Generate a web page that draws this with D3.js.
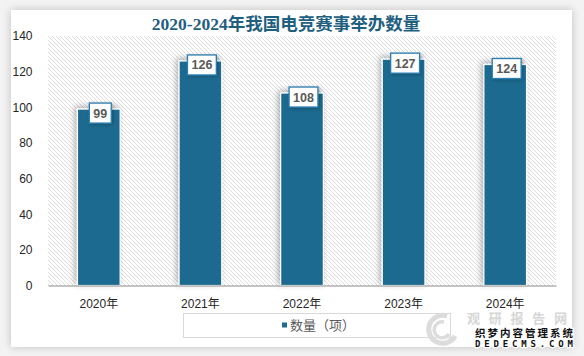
<!DOCTYPE html>
<html><head><meta charset="utf-8">
<script src="https://cdn.jsdelivr.net/npm/d3@7"></script>
<style>body{margin:0;background:#f3f3f3;}svg{display:block;}</style>
</head><body>
<svg id="c" width="584" height="356"></svg>
<script>
const title = "2020-2024年我国电竞赛事举办数量";
const categories = ["2020年","2021年","2022年","2023年","2024年"];
const values = [99,126,108,127,124];
const yTicks = [0,20,40,60,80,100,120,140];
const seriesName = "数量（项）";

const svg = d3.select("#c");
const defs = svg.append("defs");
const pat = defs.append("pattern").attr("id","hatch").attr("patternUnits","userSpaceOnUse")
  .attr("width",4).attr("height",4);
pat.append("rect").attr("width",4).attr("height",4).attr("fill","#fff");
pat.append("path").attr("d","M-1,-1 L5,5 M-1,3 L1,5 M3,-1 L5,1").attr("stroke","#dadada").attr("stroke-width",0.9);
const cardSh = defs.append("filter").attr("id","cardsh").attr("x","-10%").attr("y","-10%").attr("width","120%").attr("height","120%");
cardSh.append("feDropShadow").attr("dx",0).attr("dy",0).attr("stdDeviation",4).attr("flood-color","#000").attr("flood-opacity",0.22);
const barSh = defs.append("filter").attr("id","barsh").attr("x","-50%").attr("y","-50%").attr("width","200%").attr("height","200%");
barSh.append("feDropShadow").attr("dx",-2).attr("dy",-2).attr("stdDeviation",3).attr("flood-color","#000").attr("flood-opacity",0.3);
const lblSh = defs.append("filter").attr("id","lblsh").attr("x","-50%").attr("y","-50%").attr("width","200%").attr("height","200%");
lblSh.append("feDropShadow").attr("dx",1).attr("dy",1).attr("stdDeviation",1.5).attr("flood-color","#000").attr("flood-opacity",0.25);

svg.append("rect").attr("width",584).attr("height",356).attr("fill","#f3f3f3");
svg.append("rect").attr("x",11).attr("y",10).attr("width",561).attr("height",337).attr("fill","#fff").attr("filter","url(#cardsh)");

const x = d3.scaleBand().domain(categories).range([48,556]).paddingInner(0.58).paddingOuter(0.29);
const y = d3.scaleLinear().domain([0,140]).range([285.5,36]);

svg.append("rect").attr("x",48).attr("y",y(140)).attr("width",508).attr("height",y(0)-y(140)).attr("fill","url(#hatch)");

svg.append("text").attr("x",286).attr("y",30).attr("text-anchor","middle")
  .attr("font-family","'Liberation Serif','Noto Sans CJK SC',serif").attr("font-weight","bold")
  .attr("font-size",17.5).attr("fill","#1f5f80").text(title);

// y axis
const yAxis = d3.axisLeft(y).tickValues(yTicks).tickSize(0).tickPadding(0);
const yg = svg.append("g").attr("transform","translate(32.5,0)").call(yAxis);
yg.select(".domain").remove();
yg.selectAll("text").attr("font-family","'Liberation Sans','Noto Sans CJK SC',sans-serif").attr("font-size",12).attr("fill","#262626");

// bars
svg.append("g").selectAll("rect").data(values).join("rect")
  .attr("x",(d,i)=>x(categories[i])).attr("y",d=>y(d))
  .attr("width",x.bandwidth()).attr("height",d=>y(0)-y(d))
  .attr("fill","#1d6b8f").attr("stroke","#fff").attr("stroke-width",1.2)
  .attr("filter","url(#barsh)");

// x axis
const xAxis = d3.axisBottom(x).tickSize(0).tickPadding(0);
const xg = svg.append("g").attr("transform",`translate(0,${y(0)})`).call(xAxis);
xg.select(".domain").attr("stroke","#8c8c8c").attr("stroke-width",1.2);
xg.selectAll("text").attr("dy","1.2em").attr("y",8).attr("font-family","'Liberation Sans','Noto Sans CJK SC',sans-serif").attr("font-size",12).attr("fill","#262626");

// labels
const lg = svg.append("g").selectAll("g").data(values).join("g")
  .attr("transform",(d,i)=>`translate(${x(categories[i])+x.bandwidth()/2+1.5},${y(d)-6})`);
lg.each(function(d){
  const g = d3.select(this);
  const r = g.append("rect");
  const t = g.append("text").attr("x",0).attr("y",14.5).attr("text-anchor","middle")
    .attr("font-family","'Liberation Sans',sans-serif").attr("font-weight","bold").attr("font-size",12.5)
    .attr("fill","#595959").text(d);
  const w = t.node().getComputedTextLength()+8;
  r.attr("x",-w/2).attr("y",0).attr("width",w).attr("height",20).attr("fill","#fff")
   .attr("stroke","#2b7db0").attr("stroke-width",1.3).attr("filter","url(#lblsh)");
});

// legend
svg.append("rect").attr("x",183.5).attr("y",313.5).attr("width",267).attr("height",24).attr("fill","#fff").attr("stroke","#d9d9d9");
svg.append("rect").attr("x",282).attr("y",322.5).attr("width",5).attr("height",5).attr("fill","#1d6b8f");
svg.append("text").attr("x",290).attr("y",330).attr("font-family","'Noto Sans CJK SC',sans-serif")
  .attr("font-size",13).attr("fill","#595959").text(seriesName);

// watermark
const wm = svg.append("g");
wm.append("path").attr("d","M447,316 A14,14 0 1,0 455,336").attr("fill","none").attr("stroke","#dcdcdc").attr("stroke-width",5);
wm.append("path").attr("d","M444,322 A8,8 0 1,0 449,334").attr("fill","none").attr("stroke","#dcdcdc").attr("stroke-width",3.5);
wm.append("text").attr("x",467).attr("y",323).attr("font-family","'Noto Sans CJK SC',sans-serif").attr("font-weight","bold")
  .attr("font-size",13).attr("fill","#d6d6d6").attr("textLength",100).text("观研报告网");
wm.append("text").attr("x",475).attr("y",337).attr("font-family","'Noto Sans CJK SC',sans-serif").attr("font-weight","bold")
  .attr("font-size",10.5).attr("fill","#111").attr("stroke","#fff").attr("stroke-width",2.5).attr("paint-order","stroke")
  .attr("textLength",98).text("织梦内容管理系统");
wm.append("text").attr("x",475).attr("y",347).attr("font-family","'DejaVu Sans Mono',monospace").attr("font-weight","bold")
  .attr("font-size",9).attr("fill","#111").attr("stroke","#fff").attr("stroke-width",2.5).attr("paint-order","stroke")
  .attr("textLength",98).text("DEDECMS.COM");
</script>
</body></html>
